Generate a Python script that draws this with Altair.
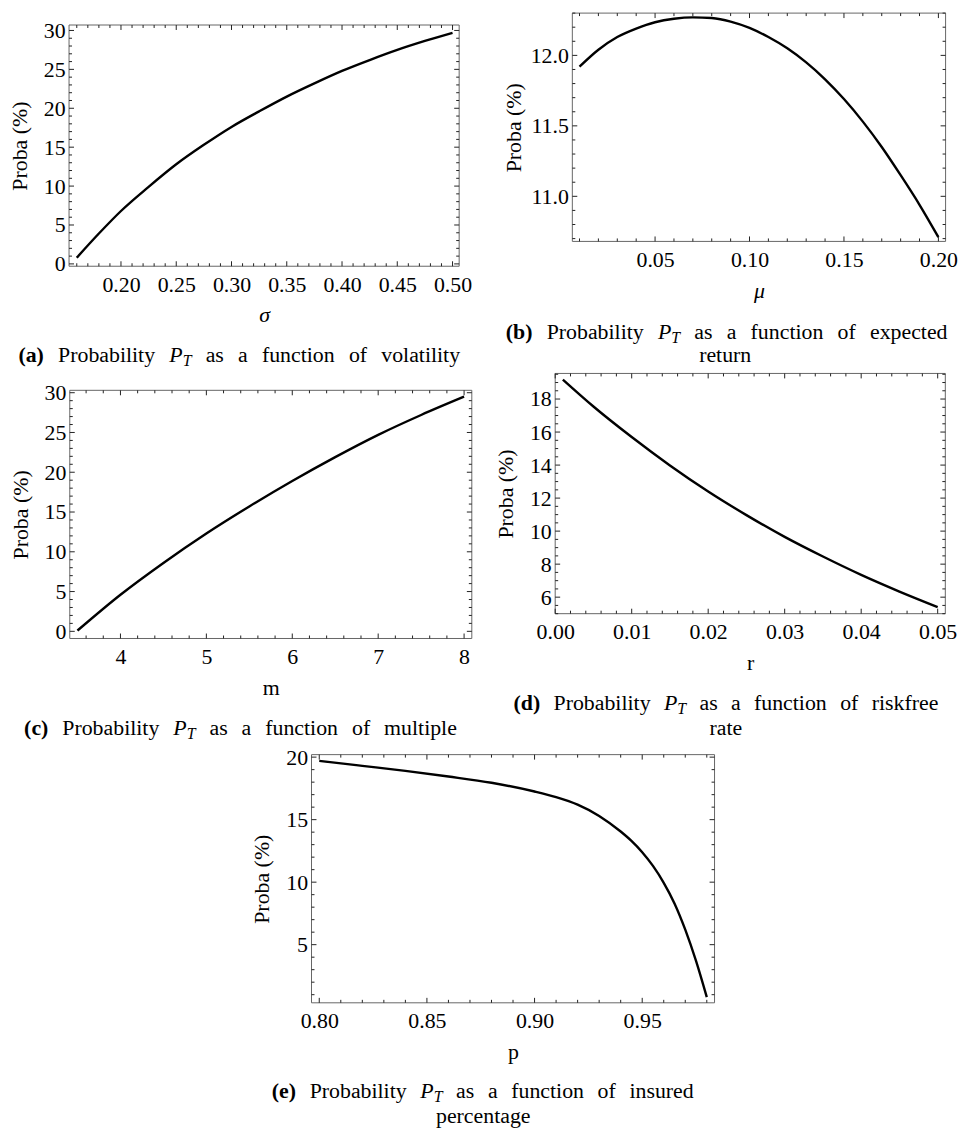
import math
import altair as alt
import pandas as pd

FONT = "Liberation Serif"
FS = 22      # axis labels / titles
CAP = 22     # caption font size
SUB = 16     # subscript size

# ---------------- data ----------------
# (a) volatility
sigma_vals = [0.16, 0.18, 0.20, 0.225, 0.25, 0.275, 0.30, 0.325, 0.35, 0.375, 0.40, 0.425, 0.45, 0.475, 0.50]
proba_sigma = [0.8, 3.9, 6.8, 9.9, 12.8, 15.3, 17.6, 19.6, 21.5, 23.2, 24.8, 26.2, 27.5, 28.65, 29.7]

# (b) expected return
mu_vals = [0.01, 0.02, 0.03, 0.04, 0.05, 0.06, 0.07, 0.08, 0.09, 0.10,
           0.11, 0.12, 0.13, 0.14, 0.15, 0.16, 0.17, 0.18, 0.19, 0.20]
proba_mu = [11.92, 12.04, 12.13, 12.19, 12.235, 12.26, 12.27, 12.265, 12.24, 12.195,
            12.13, 12.05, 11.95, 11.83, 11.69, 11.53, 11.35, 11.15, 10.94, 10.71]

# (c) multiple
m_vals = [3.5, 4.0, 4.5, 5.0, 5.5, 6.0, 6.5, 7.0, 7.5, 8.0]
proba_m = [0.1, 4.6, 8.6, 12.3, 15.7, 18.9, 21.9, 24.7, 27.2, 29.5]

# (d) riskfree rate
r_vals = [0.001, 0.005, 0.01, 0.015, 0.02, 0.025, 0.03, 0.035, 0.04, 0.045, 0.05]
proba_r = [19.18, 17.55, 15.7, 13.98, 12.4, 10.97, 9.65, 8.46, 7.35, 6.34, 5.4]

# (e) insured percentage
p_vals = [0.80, 0.82, 0.84, 0.86, 0.88, 0.90, 0.91, 0.92, 0.93, 0.94, 0.945,
          0.95, 0.955, 0.96, 0.965, 0.97, 0.975, 0.98]
proba_p = [19.7, 19.3, 18.9, 18.45, 17.95, 17.25, 16.8, 16.2, 15.3, 14.05, 13.3,
           12.4, 11.3, 9.95, 8.3, 6.2, 3.7, 0.8]

# tick labels
a_xticks = [0.20, 0.25, 0.30, 0.35, 0.40, 0.45, 0.50]
a_yticks = [0, 5, 10, 15, 20, 25, 30]
b_xticks = [0.05, 0.10, 0.15, 0.20]
b_yticks = [11.0, 11.5, 12.0]
c_xticks = [4, 5, 6, 7, 8]
c_yticks = [0, 5, 10, 15, 20, 25, 30]
d_xticks = [0.00, 0.01, 0.02, 0.03, 0.04, 0.05]
d_yticks = [6, 8, 10, 12, 14, 16, 18]
e_xticks = [0.80, 0.85, 0.90, 0.95]
e_yticks = [5, 10, 15, 20]

# caption texts
cap_a = ["(a)", "as a function of volatility"]
cap_b = ["(b)", "as a function of expected", "return"]
cap_c = ["(c)", "as a function of multiple"]
cap_d = ["(d)", "as a function of riskfree", "rate"]
cap_e = ["(e)", "as a function of insured", "percentage"]

# ---------------- font metrics (Times / Liberation Serif) ----------------
REG = {' ': .25, '(': .333, ')': .333, 'a': .444, 'b': .5, 'c': .444, 'd': .5, 'e': .444,
       'f': .333, 'g': .5, 'h': .5, 'i': .278, 'k': .5, 'l': .278, 'm': .778, 'n': .5,
       'o': .5, 'p': .5, 'r': .333, 's': .389, 't': .278, 'u': .5, 'v': .5, 'x': .5,
       'y': .5, 'P': .556, 'T': .611}
BOLD = {'(': .333, ')': .333, 'a': .5, 'b': .556, 'c': .444, 'd': .556, 'e': .444}
ITAL = {'P': .611, 'T': .556}

ONE = pd.DataFrame({"k": [0]})
FRAME = "#666"
TICK = "#222"


def text_w(s, style):
    if style == "bold":
        t, size = BOLD, CAP
    elif style == "ital":
        t, size = ITAL, CAP
    elif style == "sub":
        t, size = ITAL, SUB
    else:
        t, size = REG, CAP
    return sum(t.get(c, 0.5) for c in s) * size


def text_layer(txt, style, x, y, align="left"):
    kw = dict(font=FONT, color="black", align=align, baseline="alphabetic")
    if style == "bold":
        kw.update(fontSize=CAP, fontWeight="bold")
    elif style == "ital":
        kw.update(fontSize=CAP, fontStyle="italic")
    elif style == "sub":
        kw.update(fontSize=SUB, fontStyle="italic")
    else:
        kw.update(fontSize=CAP)
    return alt.Chart(ONE).mark_text(text=txt, **kw).encode(x=alt.value(x), y=alt.value(y))


def caption_layers(cap, x0, x1, base1, center2=None, base2=None):
    words = [(cap[0], "bold", True), ("Probability", "reg", True), ("P", "ital", False), ("T", "sub", True)]
    rest = cap[1].split(" ")
    for i, w in enumerate(rest):
        words.append((w, "reg", i < len(rest) - 1))
    space = REG[' '] * CAP
    ngaps = sum(1 for _, _, g in words if g)
    natural = sum(text_w(w, s) for w, s, _ in words) + space * ngaps
    extra = max(0.0, (x1 - x0 - natural) / ngaps)
    layers = []
    x = x0
    for w, s, g in words:
        yy = base1 + (4 if s == "sub" else 0)
        layers.append(text_layer(w, s, x, yy))
        x += text_w(w, s)
        if g:
            x += space + extra
    if len(cap) > 2:
        layers.append(text_layer(cap[2], "reg", center2, base2, align="center"))
    return layers


def minor_vals(dom, step, majors):
    k0 = math.ceil(dom[0] / step - 1e-9)
    k1 = math.floor(dom[1] / step + 1e-9)
    out = []
    for k in range(k0, k1 + 1):
        v = round(k * step, 6)
        if all(abs(v - mj) > step / 10 for mj in majors):
            out.append(v)
    return out


def fixed_rule(x1, x2, y1, y2, color, width=1):
    return alt.Chart(ONE).mark_rule(color=color, strokeWidth=width).encode(
        x=alt.value(x1), x2=alt.value(x2), y=alt.value(y1), y2=alt.value(y2))


def panel(xv, yv, xdom, ydom, W, H, xticks, xstep, yticks, ystep, xfmt, yfmt,
          xtitle, xitalic, cap, cap_x0, cap_x1, base1, center2=None, base2=None,
          off=0, ytitle_pad=12):
    # off: empty band above the frame (lets panels in one row have different tops)
    HT = H + off
    xs = alt.Scale(domain=xdom, nice=False, zero=False)
    ys = alt.Scale(domain=ydom, nice=False, zero=False, range=[HT, off])
    xaxis = alt.Axis(values=xticks, format=xfmt, title=xtitle,
                     titleFontStyle="italic" if xitalic else "normal",
                     labelPadding=8, titlePadding=10, labelFlush=False,
                     labelOverlap=False, labelBound=False)
    yaxis = alt.Axis(values=yticks, format=yfmt, title="Proba (%)",
                     labelPadding=4, titlePadding=ytitle_pad, labelOverlap=False,
                     labelFlush=False, titleY=off + H / 2)
    df = pd.DataFrame({"x": xv, "y": yv})
    line = alt.Chart(df).mark_line(color="black", strokeWidth=2.4, interpolate="monotone").encode(
        x=alt.X("x:Q", scale=xs, axis=xaxis),
        y=alt.Y("y:Q", scale=ys, axis=yaxis),
    )
    LMAJ, LMIN = 5, 3
    xmin = minor_vals(xdom, xstep, xticks)
    ymin = minor_vals(ydom, ystep, yticks)
    layers = [
        fixed_rule(0, W, off, off, FRAME),
        fixed_rule(0, W, HT, HT, FRAME),
        fixed_rule(0, 0, off, HT, FRAME),
        fixed_rule(W, W, off, HT, FRAME),
        line,
    ]
    for vals, L in ((xticks, LMAJ), (xmin, LMIN)):
        d = pd.DataFrame({"x": vals})
        for y1, y2 in ((off, off + L), (HT, HT - L)):
            layers.append(alt.Chart(d).mark_rule(color=TICK, strokeWidth=1).encode(
                x=alt.X("x:Q", scale=xs, axis=xaxis), y=alt.value(y1), y2=alt.value(y2)))
    for vals, L in ((yticks, LMAJ), (ymin, LMIN)):
        d = pd.DataFrame({"y": vals})
        for x1, x2 in ((0, L), (W, W - L)):
            layers.append(alt.Chart(d).mark_rule(color=TICK, strokeWidth=1).encode(
                y=alt.Y("y:Q", scale=ys, axis=yaxis), x=alt.value(x1), x2=alt.value(x2)))
    layers += caption_layers(cap, cap_x0, cap_x1, HT + base1,
                             center2, None if base2 is None else HT + base2)
    return alt.layer(*layers).properties(width=W, height=HT)


pa = panel(sigma_vals, proba_sigma, [0.153, 0.506], [-0.3, 30.7], 393, 243,
           a_xticks, 0.01, a_yticks, 1, ".2f", "d", "σ", True,
           cap_a, -51, 394, 96, off=12)
pb = panel(mu_vals, proba_mu, [0.0062, 0.2038], [10.68, 12.30], 376, 230,
           b_xticks, 0.01, b_yticks, 0.1, ".2f", ".1f", "μ", True,
           cap_b, -67, 378, 98, 154, 121, ytitle_pad=5)
pc = panel(m_vals, proba_m, [3.41, 8.09], [-0.9, 30.3], 405, 250,
           c_xticks, 0.2, c_yticks, 1, "d", "d", "m", False,
           cap_c, -46, 390, 97, off=17)
pd_ = panel(r_vals, proba_r, [0.0, 0.051], [5.0, 19.55], 393, 242,
            d_xticks, 0.002, d_yticks, 0.5, ".2f", "d", "r", False,
            cap_d, -42, 386, 97, 172, 122)
pe = panel(p_vals, proba_p, [0.7964, 0.9836], [0.35, 20.2], 406, 250,
           e_xticks, 0.01, e_yticks, 1, ".2f", "d", "p", False,
           cap_e, -40, 385, 96, 173, 121)

row1 = alt.hconcat(pa, pb, spacing=30)
row2 = alt.hconcat(pc, pd_, spacing=22)

chart = alt.vconcat(row1, row2, pe, spacing=4, center=True).properties(
    padding=0, background="white"
).configure_view(
    stroke="transparent", strokeWidth=0
).configure_axis(
    labelFont=FONT, labelFontSize=FS, labelColor="black",
    titleFont=FONT, titleFontSize=FS, titleColor="black", titleFontWeight="normal",
    ticks=False, domain=False, grid=False, tickSize=0
)

chart.save("out.html", embed_options={"renderer": "svg", "actions": False})
